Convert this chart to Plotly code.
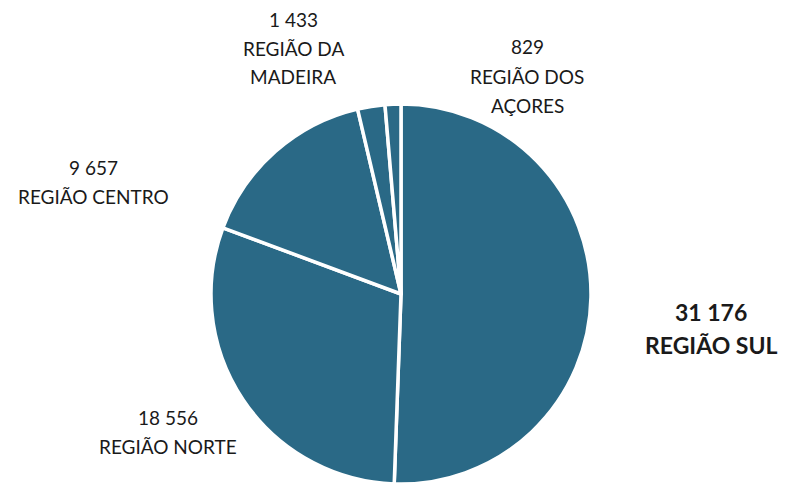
import plotly.graph_objects as go

regions = ["REGIÃO SUL", "REGIÃO NORTE", "REGIÃO CENTRO", "REGIÃO DA MADEIRA", "REGIÃO DOS AÇORES"]
values = [31176, 18556, 9657, 1433, 829]
value_labels = ["31 176", "18 556", "9 657", "1 433", "829"]
label_lines = [["REGIÃO SUL"], ["REGIÃO NORTE"], ["REGIÃO CENTRO"], ["REGIÃO DA", "MADEIRA"], ["REGIÃO DOS", "AÇORES"]]

W, H = 787, 484
color = "#2a6986"

fig = go.Figure(go.Pie(
    labels=regions, values=values, sort=False, direction="clockwise", rotation=0,
    marker=dict(colors=[color] * len(values), line=dict(color="white", width=3.5)),
    textinfo="none", hoverinfo="label+value",
    domain=dict(x=[(401 - 190) / W, (401 + 190) / W], y=[1 - 484 / H, 1 - 104 / H]),
    showlegend=False,
))

# label anchor centers (pixels): first line center
label_pos = [(711, 312), (168, 417), (93, 168), (293, 19), (527, 47)]
annotations = []
for i, (cx, cy) in enumerate(label_pos):
    bold = i == 0
    size = 23 if bold else 19
    step = 33 if bold else 29
    lines = [value_labels[i]] + label_lines[i]
    for j, t in enumerate(lines):
        annotations.append(dict(
            x=cx / W, y=1 - (cy + j * step) / H, xref="paper", yref="paper",
            text=f"<b>{t}</b>" if bold else t, showarrow=False,
            xanchor="center", yanchor="middle",
            font=dict(family="Lato", size=size, color="#1a1a1a"),
        ))

fig.update_layout(
    width=W, height=H, margin=dict(l=0, r=0, t=0, b=0),
    paper_bgcolor="white", plot_bgcolor="white",
    annotations=annotations,
)
fig.write_html("out.html", config={"displayModeBar": False},
               post_script="document.body.style.margin='0';document.body.style.overflow='hidden';")
